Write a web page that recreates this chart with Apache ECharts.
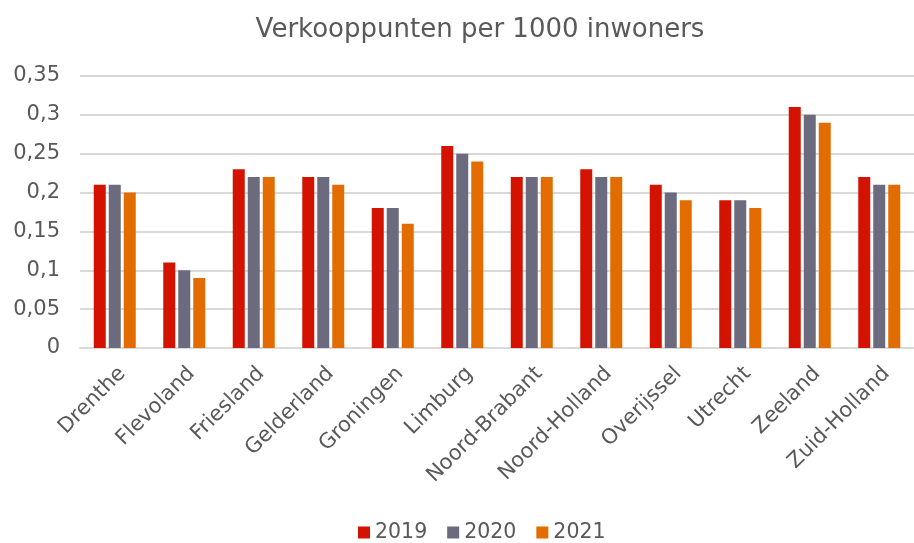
<!DOCTYPE html>
<html>
<head>
<meta charset="utf-8">
<script src="https://cdn.jsdelivr.net/npm/echarts@6/dist/echarts.min.js"></script>
<style>html,body{margin:0;padding:0;background:#fff}#c{width:914px;height:543px}</style>
</head>
<body>
<div id="c"></div>
<script>
var categories = ['Drenthe','Flevoland','Friesland','Gelderland','Groningen','Limburg','Noord-Brabant','Noord-Holland','Overijssel','Utrecht','Zeeland','Zuid-Holland'];
var v2019 = [0.21,0.11,0.23,0.22,0.18,0.26,0.22,0.23,0.21,0.19,0.31,0.22];
var v2020 = [0.21,0.10,0.22,0.22,0.18,0.25,0.22,0.22,0.20,0.19,0.30,0.21];
var v2021 = [0.20,0.09,0.22,0.21,0.16,0.24,0.22,0.22,0.19,0.18,0.29,0.21];
var seriesNames = ['2019','2020','2021'];
var colors = ['#D41200','#6B6A7E','#E36C00'];

var font = '"DejaVu Sans", sans-serif';
var chart = echarts.init(document.getElementById('c'));
var data = [v2019, v2020, v2021];
chart.setOption({
  animation: false,
  title: {text: 'Verkooppunten per 1000 inwoners', left: 475, textAlign: 'center', top: 12,
    textStyle: {fontFamily: font, fontSize: 26, fontWeight: 'normal', color: '#595959'}},
  legend: {left: 353, top: 517, itemWidth: 12, itemHeight: 12, itemGap: 20, icon: 'rect',
    textStyle: {fontFamily: font, fontSize: 20.5, color: '#595959'}, data: seriesNames},
  grid: {left: 80, right: 0, top: 76, bottom: 195, containLabel: false},
  xAxis: {type: 'category', data: categories,
    axisLine: {lineStyle: {color: '#D9D9D9', width: 2}}, axisTick: {show: false},
    axisLabel: {rotate: 45, interval: 0, margin: 15, verticalAlign: 'top', fontFamily: font, fontSize: 21, color: '#595959'}},
  yAxis: {type: 'value', min: 0, max: 0.35, interval: 0.05,
    axisLine: {show: false}, axisTick: {show: false},
    splitLine: {lineStyle: {color: '#D9D9D9', width: 2}},
    axisLabel: {fontFamily: font, fontSize: 21, color: '#595959', margin: 20,
      formatter: function(v){ return String(Math.round(v*100)/100).replace('.', ','); }}},
  series: seriesNames.map(function(n, i){
    return {name: n, type: 'bar', data: data[i], barWidth: 12, barGap: '25%',
      itemStyle: {color: colors[i]}};
  })
});
</script>
</body>
</html>
